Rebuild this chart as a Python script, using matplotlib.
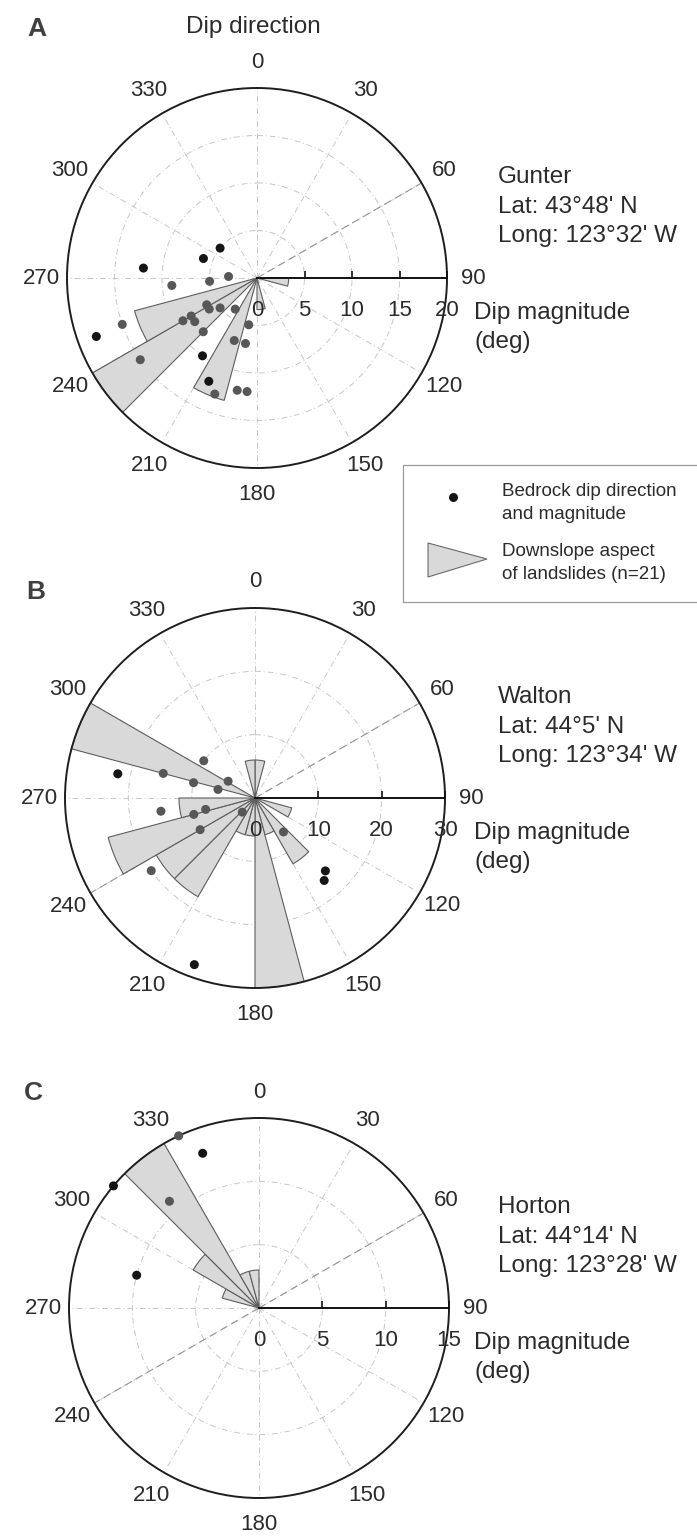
import numpy as np
import matplotlib
matplotlib.use('Agg')
import matplotlib.pyplot as plt
from matplotlib.patches import Rectangle, Polygon
from matplotlib.lines import Line2D

plt.rcParams['font.family'] = ['Liberation Sans', 'DejaVu Sans']

W, H = 697, 1536

# 方位刻度 / 直方图分组（15°）
angle_ticks = [0, 30, 60, 90, 120, 150, 180, 210, 240, 270, 300, 330]
bin_starts = [0, 15, 30, 45, 60, 75, 90, 105, 120, 135, 150, 165,
              180, 195, 210, 225, 240, 255, 270, 285, 300, 315, 330, 345]

# ---- A: Gunter ----
gunter_rmax = 20
gunter_rticks = [0, 5, 10, 15, 20]
gunter_rings = [5, 10, 15]
gunter_counts = [0, 0, 0, 0, 0, 0, 1, 0, 0, 0, 0, 1,
                 0, 4, 0, 6, 4, 0, 0, 0, 0, 0, 0, 0]
gunter_dir_gray = [273, 266, 265, 251, 235, 242, 237, 231, 215, 240, 240, 235, 225,
                   190, 200, 190, 200, 190, 185]
gunter_mag_gray = [3, 5, 9, 15, 15, 6, 6, 5, 4, 8, 9, 8, 8,
                   5, 7, 7, 13, 12, 12]
gunter_dir_black = [309, 290, 275, 250, 215, 205]
gunter_mag_black = [5, 6, 12, 18, 10, 12]

# ---- B: Walton ----
walton_rmax = 30
walton_rticks = [0, 10, 20, 30]
walton_rings = [10, 20]
walton_counts = [1, 0, 0, 0, 0, 0, 0, 1, 0, 2, 1, 5,
                 1, 1, 3, 3, 4, 2, 0, 5, 0, 0, 0, 1]
walton_dir_gray = [306, 285, 284, 302, 283, 262, 255, 257, 222, 240, 235, 140]
walton_mag_gray = [10, 15, 10, 5, 6, 15, 10, 8, 3, 10, 20, 7]
walton_dir_black = [280, 136, 140, 200]
walton_mag_black = [22, 16, 17, 28]

# ---- C: Horton ----
horton_rmax = 15
horton_rticks = [0, 5, 10, 15]
horton_rings = [5, 10]
horton_counts = [0, 0, 0, 0, 0, 0, 0, 0, 0, 0, 0, 0,
                 0, 0, 0, 0, 0, 0, 0, 1, 2, 5, 1, 1]
horton_dir_gray = [335, 320]
horton_mag_gray = [15, 11]
horton_dir_black = [340, 310, 285]
horton_mag_black = [13, 15, 10]

TXT = '#2b2b2b'
R = 190


def fx(x):
    return x / W


def fy(y):
    return 1 - y / H


def draw_panel(fig, cx, cy, counts, rmax, rticks, rings,
               dir_gray, mag_gray, dir_black, mag_black):
    ax = fig.add_axes([(cx - R) / W, 1 - (cy + R) / H, 2 * R / W, 2 * R / H],
                      projection='polar')
    ax.set_theta_zero_location('N')
    ax.set_theta_direction(-1)
    ax.set_ylim(0, rmax)
    ax.set_xticks(np.deg2rad(angle_ticks))
    ax.set_xticklabels([])
    ax.set_yticks(rings)
    ax.set_yticklabels([])
    ax.set_axisbelow(True)
    ax.grid(True, color='#c6c6c6', lw=0.7, ls=(0, (6, 3, 1, 3)))
    ax.spines['polar'].set_linewidth(1.4)
    ax.spines['polar'].set_color('#1e1e1e')
    ax.tick_params(length=0)

    # 60-240 虚线稍深
    for a in (60, 240):
        ax.plot([np.deg2rad(a)] * 2, [0, rmax], color='#959595', lw=0.8,
                ls=(0, (7, 4)), zorder=1)

    # 滑坡坡向玫瑰图
    counts = np.array(counts, dtype=float)
    radii = counts / counts.max() * rmax
    starts = np.array(bin_starts)
    keep = radii > 0
    ax.bar(np.deg2rad(starts[keep] + 7.5), radii[keep], width=np.deg2rad(15),
           color='#d9d9d9', edgecolor='#5e5e5e', linewidth=0.8, zorder=2)

    # 90° 方向的量值轴
    ax.plot([np.pi / 2] * 2, [0, rmax], color='#111111', lw=1.4, zorder=4,
            clip_on=False)
    ax.plot([np.pi / 2] * (len(rticks) - 1), rticks[1:], ls='none', marker=2,
            ms=5, mew=1.2, color='#111111', zorder=4, clip_on=False)
    for v in rticks:
        ax.annotate(str(v), xy=(np.pi / 2, v), xytext=(0, -32),
                    textcoords='offset pixels', ha='center', va='center',
                    fontsize=16, color=TXT, annotation_clip=False)

    # 基岩倾向与倾角
    ax.scatter(np.deg2rad(dir_gray), mag_gray, s=42, color='#575757',
               edgecolors='none', zorder=5, clip_on=False)
    ax.scatter(np.deg2rad(dir_black), mag_black, s=42, color='#151515',
               edgecolors='none', zorder=5, clip_on=False)

    # 方位标签
    for a in angle_ticks:
        t = np.deg2rad(a)
        ax.text(0.5 + 216 / (2 * R) * np.sin(t), 0.5 + 216 / (2 * R) * np.cos(t),
                str(a), transform=ax.transAxes, ha='center', va='center',
                fontsize=16, color=TXT)
    return ax


def site_text(cx, cy, name, lat, lon):
    fig.text(fx(498), fy(cy - 101), name, fontsize=17.5, color=TXT, va='center')
    fig.text(fx(498), fy(cy - 71), lat, fontsize=17.5, color=TXT, va='center')
    fig.text(fx(498), fy(cy - 42), lon, fontsize=17.5, color=TXT, va='center')
    fig.text(fx(474), fy(cy + 35), 'Dip magnitude', fontsize=17.5, color=TXT,
             va='center')
    fig.text(fx(474), fy(cy + 64), '(deg)', fontsize=17.5, color=TXT, va='center')


fig = plt.figure(figsize=(W / 100, H / 100), dpi=100)

draw_panel(fig, 257, 278, gunter_counts, gunter_rmax, gunter_rticks, gunter_rings,
           gunter_dir_gray, gunter_mag_gray, gunter_dir_black, gunter_mag_black)
draw_panel(fig, 255, 798, walton_counts, walton_rmax, walton_rticks, walton_rings,
           walton_dir_gray, walton_mag_gray, walton_dir_black, walton_mag_black)
draw_panel(fig, 259, 1308, horton_counts, horton_rmax, horton_rticks, horton_rings,
           horton_dir_gray, horton_mag_gray, horton_dir_black, horton_mag_black)

site_text(257, 278, 'Gunter', "Lat: 43°48' N", "Long: 123°32' W")
site_text(255, 798, 'Walton', "Lat: 44°5' N", "Long: 123°34' W")
site_text(259, 1308, 'Horton', "Lat: 44°14' N", "Long: 123°28' W")

# 面板字母与标题
for letter, (x, y) in zip('ABC', [(37, 29), (36, 592), (33, 1093)]):
    fig.text(fx(x), fy(y), letter, fontsize=19, fontweight='bold', color='#404040',
             ha='center', va='center')
fig.text(fx(253), fy(27), 'Dip direction', fontsize=17.5, color=TXT,
         ha='center', va='center')

# 图例
fig.add_artist(Rectangle((fx(403), fy(602)), fx(700) - fx(403), fy(465) - fy(602),
                         transform=fig.transFigure, fill=False, ec='#9a9a9a',
                         lw=0.9, clip_on=False))
fig.add_artist(Line2D([fx(453)], [fy(497)], marker='o', ms=6.5, color='#151515',
                      mec='none', transform=fig.transFigure))
fig.add_artist(Polygon([(fx(428), fy(543)), (fx(428), fy(577)), (fx(487), fy(559))],
                       closed=True, transform=fig.transFigure, fc='#d9d9d9',
                       ec='#6a6a6a', lw=0.8))
fig.text(fx(502), fy(492), 'Bedrock dip direction', fontsize=13.5, color=TXT, va='center')
fig.text(fx(502), fy(515), 'and magnitude', fontsize=13.5, color=TXT, va='center')
fig.text(fx(502), fy(552), 'Downslope aspect', fontsize=13.5, color=TXT, va='center')
fig.text(fx(502), fy(575), 'of landslides (n=21)', fontsize=13.5, color=TXT, va='center')

fig.savefig('out.png', dpi=100, facecolor='white')
